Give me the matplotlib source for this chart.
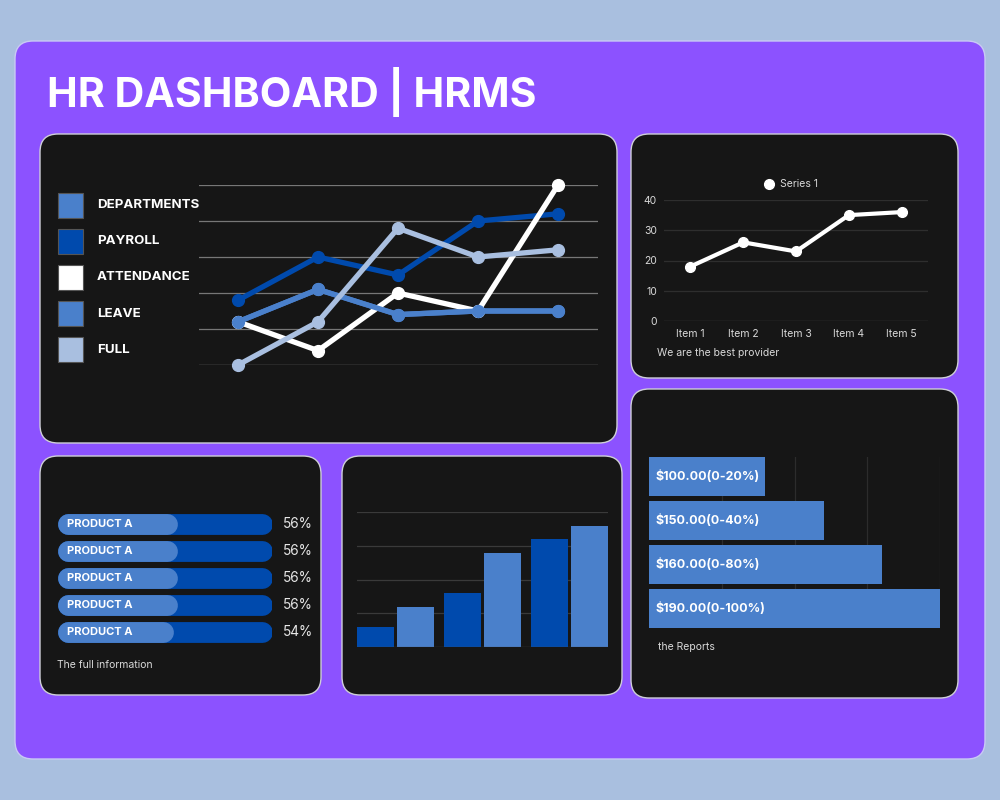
import matplotlib
matplotlib.use('Agg')
import matplotlib.pyplot as plt
from matplotlib.patches import FancyBboxPatch, Rectangle
from matplotlib.lines import Line2D

plt.rcParams['font.family'] = ['Inter', 'DejaVu Sans']

# 数据 ---------------------------------------------------------
lineNames = ['DEPARTMENTS', 'PAYROLL', 'ATTENDANCE', 'LEAVE', 'FULL']
lineColors = ['#4a80cb', '#004aad', '#ffffff', '#4a80cb', '#a9bfe0']
departments = [12, 21, 14, 15, 15]
payroll = [18, 30, 25, 40, 42]
attendance = [12, 4, 20, 15, 50]
leave = [12, 21, 14, 15, 15]
full = [0, 12, 38, 30, 32]

items = ['Item 1', 'Item 2', 'Item 3', 'Item 4', 'Item 5']
series1 = [18, 26, 23, 35, 36]

products = ['PRODUCT A'] * 5
productPct = [56, 56, 56, 56, 54]

barDark = [6, 16, 32]
barMid = [12, 28, 36]

priceLabels = ['$100.00(0-20%)', '$150.00(0-40%)', '$160.00(0-80%)', '$190.00(0-100%)']
priceValues = [40, 60, 80, 100]

# 颜色
BG = '#a9bfdf'
PURPLE = '#8c52ff'
PANEL = '#161616'
TXT = '#d9d9d9'

W, H = 1000, 800
fig = plt.figure(figsize=(10, 8), dpi=100)
fig.patch.set_facecolor(BG)

bg = fig.add_axes([0, 0, 1, 1])
bg.set_xlim(0, W)
bg.set_ylim(H, 0)
bg.axis('off')


def rbox(x0, y0, x1, y1, fc, ec, r=18, lw=1):
	p = FancyBboxPatch((x0, y0), x1 - x0, y1 - y0,
		boxstyle='round,pad=0,rounding_size=%d' % r,
		fc=fc, ec=ec, lw=lw)
	bg.add_patch(p)


def pxAxes(x0, y0, x1, y1):
	# 像素坐标 -> figure 坐标
	a = fig.add_axes([x0 / W, 1 - y1 / H, (x1 - x0) / W, (y1 - y0) / H])
	a.set_facecolor('none')
	for s in a.spines.values():
		s.set_visible(False)
	return a


rbox(15, 41, 985, 759, PURPLE, '#c9c9f5', r=18)
bg.text(47, 92, 'HR DASHBOARD | HRMS', color='white', fontsize=29.6,
	fontweight='bold', va='center', ha='left')

# 面板
rbox(40, 134, 617, 443, PANEL, '#cfcfd8')
rbox(631, 134, 958, 378, PANEL, '#cfcfd8')
rbox(40, 456, 321, 695, PANEL, '#cfcfd8')
rbox(342, 456, 622, 695, PANEL, '#cfcfd8')
rbox(631, 389, 958, 698, PANEL, '#cfcfd8')

# 主折线图 -----------------------------------------------------
ax1 = pxAxes(199, 185, 598, 365)
ax1.set_xlim(-0.4875, 4.5)
ax1.set_ylim(0, 50)
for yv in range(0, 60, 10):
	ax1.axhline(yv, color='#aaaaaa' if yv == 0 else '#777777', lw=0.9, zorder=1)
xs = list(range(5))
lineData = [departments, payroll, attendance, leave, full]
drawOrder = [0, 2, 4, 1, 3]
for i in drawOrder:
	ax1.plot(xs, lineData[i], color=lineColors[i], lw=3.8, marker='o', ms=8.5,
		clip_on=False, zorder=3 + i)
ax1.set_xticks([])
ax1.set_yticks([])

# 图例
for i, name in enumerate(lineNames):
	yc = 205 + i * 36.2
	bg.add_patch(Rectangle((58, yc - 12.5), 25, 25, fc=lineColors[i], ec='#555555', lw=0.8))
	bg.text(97, yc, name, color='white', fontsize=9.6, fontweight='bold', va='center', ha='left')

# 右上折线图 ---------------------------------------------------
ax2 = pxAxes(664, 200, 928, 321)
ax2.set_xlim(-0.5, 4.5)
ax2.set_ylim(0, 40)
for yv in range(10, 50, 10):
	ax2.axhline(yv, color='#2e2e2e', lw=0.9, zorder=1)
ax2.axhline(0, color='#555555', lw=0.9, zorder=1)
ax2.plot(range(5), series1, color='white', lw=3, marker='o', ms=7, clip_on=False,
	zorder=3, label='Series 1')
ax2.set_xticks(range(5))
ax2.set_xticklabels(items)
ax2.set_yticks(range(0, 50, 10))
ax2.tick_params(length=0, colors=TXT, labelsize=7.5, pad=5)
ax2.tick_params(axis='x', pad=6)
leg = ax2.legend(handles=[Line2D([], [], color='white', marker='o', ls='', ms=7)],
	labels=['Series 1'], loc='lower center', bbox_to_anchor=(0.47, 1.01), frameon=False,
	handletextpad=0.1, fontsize=7.5, labelcolor=TXT)
bg.text(657, 353, 'We are the best provider', color=TXT, fontsize=7.5, va='center')

# 进度条 -------------------------------------------------------
ax3 = pxAxes(57, 510, 272, 646)
capPx = 10.5
pxPerUnit = (272 - 57 - 2 * capPx) / 100
xmin = -capPx / pxPerUnit
xmax = 100 + capPx / pxPerUnit
ax3.set_xlim(xmin, xmax)
ax3.set_ylim(len(products) - 0.5, -0.5)
for i, (name, pct) in enumerate(zip(products, productPct)):
	ax3.plot([0, 100], [i, i], color='#004aad', lw=15, solid_capstyle='round', zorder=2)
	lightEnd = pct * (xmax - xmin) / 100 + xmin - capPx / pxPerUnit
	ax3.plot([0, lightEnd], [i, i], color='#4a80cb', lw=15, solid_capstyle='round', zorder=3)
	ax3.text(xmin + 10 / pxPerUnit, i, name, color='white', fontsize=8, fontweight='bold',
		va='center', ha='left', zorder=4)
	ax3.text(xmax + 11 / pxPerUnit, i, '%d%%' % pct, color='#e6e6e6', fontsize=9.8,
		va='center', ha='left', clip_on=False)
ax3.set_xticks([])
ax3.set_yticks([])
bg.text(57, 665, 'The full information', color=TXT, fontsize=7.5, va='center')

# 柱状图 -------------------------------------------------------
ax4 = pxAxes(357, 512, 608, 647)
groups = list(range(len(barDark)))
bw = 0.425
off = 0.23
ax4.set_xlim(-0.443, 2.447)
ax4.set_ylim(0, 40)
for yv in range(10, 50, 10):
	ax4.axhline(yv, color='#3a3a3a', lw=0.9, zorder=1)
ax4.bar([g - off for g in groups], barDark, width=bw, color='#004aad', zorder=2)
ax4.bar([g + off for g in groups], barMid, width=bw, color='#4a80cb', zorder=2)
ax4.axhline(0, color='#555555', lw=0.9, zorder=3)
ax4.set_xticks([])
ax4.set_yticks([])

# 水平条形图 ---------------------------------------------------
ax5 = pxAxes(649, 457, 940, 628)
ax5.set_xlim(0, 100)
ax5.set_ylim(len(priceValues) - 1 + 0.443, -0.443)
for xv in range(25, 125, 25):
	ax5.axvline(xv, color='#2c2c2c', lw=0.9, zorder=1)
ypos = list(range(len(priceValues)))
ax5.barh(ypos, priceValues, height=0.886, color='#4a80cb', zorder=2)
for y, lab in zip(ypos, priceLabels):
	ax5.text(2.4, y, lab, color='white', fontsize=9, fontweight='bold', va='center',
		ha='left', zorder=3)
ax5.set_xticks([])
ax5.set_yticks([])
bg.text(658, 647, 'the Reports', color=TXT, fontsize=7.5, va='center')

fig.savefig('out.png', dpi=100, facecolor=BG)
